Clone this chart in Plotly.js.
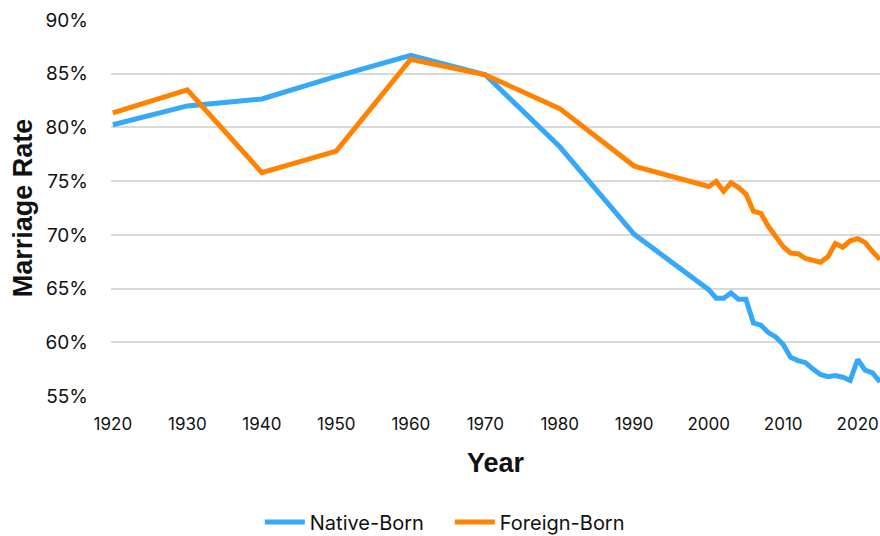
<!DOCTYPE html>
<html>
<head>
<meta charset="utf-8">
<script src="https://cdn.plot.ly/plotly-3.0.1.min.js"></script>
<style>
  html, body { margin: 0; padding: 0; background: #fff; }
  #chart { width: 880px; height: 536px; }
</style>
</head>
<body>
<div id="chart"></div>
<script>
// census years, then yearly from 2000
const years = [1920, 1930, 1940, 1950, 1960, 1970, 1980, 1990,
  2000, 2001, 2002, 2003, 2004, 2005, 2006, 2007, 2008, 2009, 2010, 2011,
  2012, 2013, 2014, 2015, 2016, 2017, 2018, 2019, 2020, 2021, 2022, 2023];

// marriage rate, percent
const nativeBorn = [80.25, 82.0, 82.65, 84.75, 86.7, 84.9, 78.2, 70.05,
  64.9, 64.1, 64.1, 64.6, 64.0, 64.0, 61.8, 61.6, 60.9, 60.5, 59.8, 58.6,
  58.3, 58.1, 57.5, 57.0, 56.8, 56.9, 56.75, 56.45, 58.4, 57.4, 57.15, 56.3];

const foreignBorn = [81.35, 83.5, 75.8, 77.8, 86.35, 84.9, 81.75, 76.4,
  74.5, 74.97, 74.05, 74.85, 74.4, 73.8, 72.2, 72.0, 70.8, 69.9, 68.9, 68.3,
  68.25, 67.8, 67.6, 67.45, 67.95, 69.2, 68.85, 69.45, 69.65, 69.3, 68.45, 67.7];

const xTicks = [1920, 1930, 1940, 1950, 1960, 1970, 1980, 1990, 2000, 2010, 2020];
const yTicks = [55, 60, 65, 70, 75, 80, 85, 90];

const font = "Inter, 'Noto Sans', Arial, sans-serif";
const boldFont = "'Liberation Sans', Arial, sans-serif";

const traces = [
  {
    name: "Native-Born",
    x: years,
    y: nativeBorn,
    mode: 'lines',
    line: { color: '#35a9f8', width: 5 },
  },
  {
    name: "Foreign-Born",
    x: years,
    y: foreignBorn,
    mode: 'lines',
    line: { color: '#ff8200', width: 5 },
  }
];

const layout = {
  width: 880,
  height: 536,
  margin: { l: 111, r: 0, t: 20, b: 140, autoexpand: false },
  paper_bgcolor: '#fff',
  plot_bgcolor: '#fff',
  font: { family: font, size: 17, color: '#111' },
  showlegend: true,
  legend: {
    orientation: 'h',
    x: 0.1935, xanchor: 'left',
    y: -0.335, yanchor: 'middle',
    font: { size: 20, color: '#111' },
    itemwidth: 40,
    entrywidth: 135,
  },
  xaxis: {
    range: [1919.75, 2023],
    tickvals: xTicks,
    ticktext: xTicks.map(String),
    showgrid: false,
    zeroline: false,
    showline: false,
    ticks: '',
    ticklabelstandoff: 16,
    tickfont: { size: 17 },
    title: { text: "<b>Year</b>", font: { family: boldFont, size: 27 }, standoff: 20 },
  },
  yaxis: {
    range: [55, 90],
    tickvals: yTicks,
    ticktext: yTicks.map(v => v + '%'),
    showgrid: true,
    gridcolor: '#d9d9d9',
    gridwidth: 1.5,
    zeroline: false,
    showline: false,
    ticks: '',
    ticklabelstandoff: 22,
    tickfont: { size: 19 },
    title: { text: "<b>Marriage Rate</b>", font: { family: boldFont, size: 27 }, standoff: 5 },
  },
};

const config = { displayModeBar: false, responsive: false };

Plotly.newPlot('chart', traces, layout, config);
</script>
</body>
</html>
